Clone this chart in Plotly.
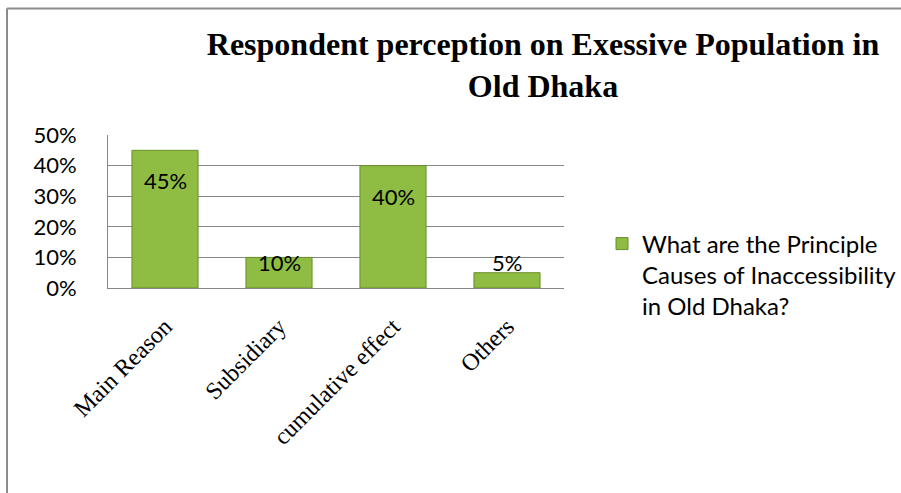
import plotly.graph_objects as go

categories = ["Main Reason", "Subsidiary", "cumulative effect", "Others"]
values = [45, 10, 40, 5]
series_name = "What are the Principle<br>Causes of Inaccessibility<br>in Old Dhaka?"
y_ticks = [0, 10, 20, 30, 40, 50]
y_tick_labels = ["0%", "10%", "20%", "30%", "40%", "50%"]
title_text = "Respondent perception on Exessive Population in<br>Old Dhaka"

W, H = 901, 493
L, R, T, B = 108, 337, 135, 205
PW, PH = W - L - R, H - T - B

fig = go.Figure()
fig.add_trace(go.Bar(
    x=categories, y=values, name=series_name, width=0.58,
    marker=dict(color="#8FBC42", line=dict(color="#6B8E2B", width=1)),
    hoverinfo="x+y",
))

# data labels, clamped near bottom like Excel "inside end"
for c, v in zip(categories, values):
    fig.add_annotation(x=c, y=max(v - 10, 8.2), text=f"{v}%", showarrow=False,
                       font=dict(family="Lato", size=22, color="#000000"),
                       xanchor="center", yanchor="middle")

# outer chart border (left and top)
bx = (7 - L) / PW
by = (H - B - 8.5) / PH
fig.add_shape(type="line", xref="paper", yref="paper", x0=bx, x1=bx, y0=-2, y1=by,
              line=dict(color="#8C8C8C", width=2))
fig.add_shape(type="line", xref="paper", yref="paper", x0=bx, x1=3, y0=by, y1=by,
              line=dict(color="#8C8C8C", width=2))

fig.update_layout(
    width=W, height=H,
    margin=dict(l=L, r=R, t=T, b=B, autoexpand=False),
    paper_bgcolor="white", plot_bgcolor="white",
    title=dict(text=title_text, x=543 / W, xanchor="center", y=1 - 55 / H, yanchor="middle",
               font=dict(family="Liberation Serif", size=32, color="#000000", weight="bold")),
    showlegend=True,
    legend=dict(x=(602 - L) / PW, xanchor="left", y=(288 - 275) / PH, yanchor="middle",
                valign="top",
                font=dict(family="Lato", size=24, color="#000000"), bgcolor="rgba(0,0,0,0)"),
    xaxis=dict(tickangle=-45, tickfont=dict(family="Liberation Serif", size=24, color="#000000"),
               showline=True, linecolor="#868686", linewidth=1, showgrid=False, ticks="",
               ticklabelstandoff=14),
    yaxis=dict(range=[0, 50], tickvals=y_ticks, ticktext=y_tick_labels,
               tickfont=dict(family="Lato", size=22, color="#000000"),
               showgrid=True, gridcolor="#868686", gridwidth=1,
               showline=True, linecolor="#868686", linewidth=1, ticks="",
               ticklabelstandoff=26, zeroline=False),
)

fig.write_html("out.html", config={"displayModeBar": False},
               post_script="document.body.style.margin='0px';")
